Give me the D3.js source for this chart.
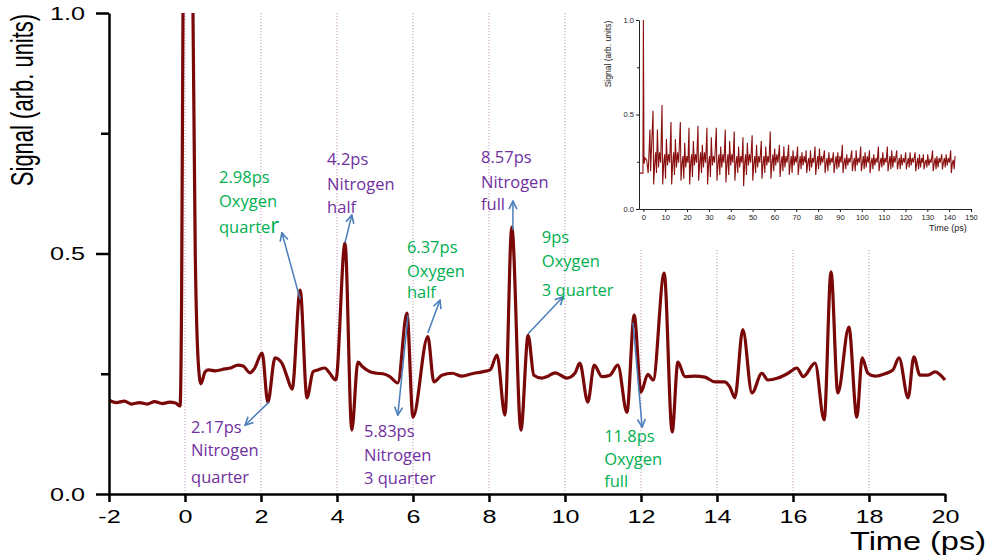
<!DOCTYPE html>
<html><head><meta charset="utf-8">
<script src="https://cdn.jsdelivr.net/npm/d3@7"></script>
<style>body{margin:0;background:#fff}svg{display:block}</style>
</head><body><svg id="c" width="985" height="558"></svg>
<script>
// ---------- main trace (time in ps, signal) ----------
const mainT = [-2.0,-1.8,-1.6,-1.4,-1.2,-1.0,-0.8,-0.6,-0.4,-0.25,-0.13,-0.09,-0.05,0.05,0.16,0.21,0.27,0.36,0.42,
  0.53,0.62,0.8,1.05,1.2,1.39,1.53,1.71,1.82,2.03,2.18,2.37,2.55,2.68,2.82,3.03,3.21,3.37,3.5,3.68,3.8,3.97,
  4.21,4.39,4.55,4.68,4.87,5.05,5.21,5.39,5.6,5.84,6.0,6.39,6.55,6.76,7.03,7.29,7.55,7.82,8.03,8.21,8.42,8.6,8.84,
  9.03,9.18,9.39,9.55,9.74,10.05,10.26,10.39,10.6,10.77,10.97,11.18,11.39,11.63,11.82,12.0,12.18,12.32,12.61,12.82,
  12.97,13.16,13.42,13.68,13.95,14.2,14.34,14.47,14.68,14.92,15.18,15.34,15.6,15.87,16.1,16.27,16.58,16.82,17.0,
  17.18,17.47,17.68,17.82,17.97,18.16,18.42,18.63,18.79,19.03,19.18,19.34,19.55,19.74,20.0];
const mainV = [0.195,0.190,0.193,0.187,0.190,0.187,0.192,0.188,0.191,0.189,0.183,0.40,1.05,1.6,1.6,1.0,0.5,0.26,0.229,
  0.254,0.258,0.256,0.260,0.262,0.268,0.266,0.252,0.260,0.293,0.191,0.283,0.272,0.245,0.218,0.424,0.200,0.254,0.258,0.262,0.252,0.237,
  0.522,0.133,0.274,0.264,0.254,0.251,0.250,0.244,0.231,0.376,0.160,0.327,0.233,0.247,0.251,0.245,0.250,0.254,0.258,0.289,0.164,0.555,0.133,
  0.330,0.247,0.241,0.245,0.252,0.241,0.251,0.272,0.191,0.268,0.244,0.247,0.268,0.170,0.372,0.212,0.249,0.237,0.459,0.129,
  0.274,0.244,0.245,0.243,0.233,0.233,0.222,0.200,0.342,0.210,0.251,0.237,0.241,0.251,0.262,0.244,0.272,0.154,0.462,
  0.210,0.347,0.160,0.283,0.251,0.245,0.250,0.258,0.283,0.200,0.285,0.247,0.247,0.254,0.237];

const xTicks = [-2,0,2,4,6,8,10,12,14,16,18,20];
const gridTimes = [0,2,4,6,8,10,12,14,16,18];
const yTicks = [0,0.5,1.0];
const yMinorTicks = [0.25,0.75];

// ---------- annotations ----------
const annLabels = [["2.17ps","Nitrogen","quarter"],["2.98ps","Oxygen","quarter"],["4.2ps","Nitrogen","half"],
  ["5.83ps","Nitrogen","3 quarter"],["6.37ps","Oxygen","half"],["8.57ps","Nitrogen","full"],
  ["9ps","Oxygen","3 quarter"],["11.8ps","Oxygen","full"]];
const annGas = ["N","O","N","N","O","N","O","O"];
const annTextT = [0.16,0.895,3.74,4.71,5.84,7.79,9.39,11.03];
const annTextV = [0.127,0.647,0.684,0.119,0.501,0.688,0.522,0.108];
const annLineGap = [[0,23,50],[0,24,50],[0,25,48],[0,24,47],[0,24,45],[0,25,47],[0,24,53],[0,23,45]];
const annFromT = [2.21,3.03,4.21,5.87,6.39,8.63,9.03,11.79];
const annFromV = [0.191,0.405,0.522,0.372,0.335,0.549,0.333,0.356];
const annToT = [1.58,2.55,4.39,5.6,6.71,8.63,9.95,12.03];
const annToV = [0.143,0.543,0.58,0.164,0.403,0.609,0.41,0.139];

// ---------- inset (long scan) ----------
const insetStartT = [-2,-0.2,0,0.3,0.8,1.5,2.2,3.0,3.3];
const insetStartV = [0.19,0.19,1.0,0.24,0.27,0.26,0.19,0.42,0.20];
const insetPeakT = [4.42,8.54,12.65,16.92,20.88,25.0,29.1,33.4,37.5,41.6,45.6,49.8,54.0,58.1,62.3,66.5,70.6,74.5,
  78.6,82.9,87.0,91.1,95.4,99.5,103.5,107.6,111.7,116.0,120.1,124.4,128.2,132.4,136.6,140.7];
const insetPeakV = [0.52,0.55,0.46,0.46,0.43,0.44,0.43,0.43,0.42,0.41,0.38,0.39,0.36,0.41,0.34,0.34,0.33,0.31,
  0.33,0.31,0.30,0.34,0.31,0.33,0.31,0.33,0.33,0.31,0.30,0.30,0.29,0.31,0.29,0.31];
const insetDipV = [0.13,0.13,0.13,0.15,0.13,0.15,0.13,0.15,0.14,0.15,0.12,0.15,0.16,0.16,0.17,0.18,0.18,0.19,
  0.18,0.19,0.19,0.19,0.20,0.20,0.19,0.20,0.20,0.21,0.21,0.20,0.21,0.20,0.21,0.19];
const insetMidV = [0.42,0.37,0.37,0.35,0.36,0.34,0.38,0.33,0.36,0.33,0.35,0.34,0.33,0.32,0.33,0.31,0.30,0.31,
  0.32,0.30,0.30,0.29,0.31,0.30,0.29,0.30,0.31,0.29,0.30,0.29,0.29,0.28,0.29,0.28];
const insetMidDipV = [0.19,0.16,0.18,0.16,0.17,0.19,0.17,0.18,0.18,0.19,0.18,0.19,0.19,0.20,0.20,0.19,0.21,0.20,
  0.21,0.20,0.21,0.21,0.20,0.21,0.21,0.22,0.21,0.21,0.22,0.21,0.22,0.21,0.22,0.21];
const insetSmallHiV = [0.30,0.29,0.30,0.28,0.29,0.30,0.28,0.29,0.29,0.28,0.29,0.28,0.28,0.29,0.28,0.28,0.28,0.27,
  0.28,0.27,0.28,0.27,0.27,0.28,0.27,0.27,0.28,0.27,0.27,0.27,0.26,0.27,0.27,0.26];
const insetSmallLoV = [0.22,0.23,0.22,0.22,0.23,0.22,0.23,0.22,0.23,0.22,0.23,0.22,0.23,0.23,0.22,0.23,0.23,0.22,
  0.23,0.23,0.22,0.23,0.23,0.22,0.23,0.23,0.22,0.23,0.23,0.22,0.23,0.22,0.23,0.22];
const insetBaseV = 0.245;
const insetEndT = 143;
const insetXTicks = [0,10,20,30,40,50,60,70,80,90,100,110,120,130,140,150];

// ---------- drawing ----------
const svg = d3.select('#c');
const FONT = '"Liberation Sans", Arial, sans-serif';
const x = d3.scaleLinear().domain([-2,20]).range([109,945]);
const y = d3.scaleLinear().domain([0,1]).range([494,13]);
const defs = svg.append('defs');
defs.append('clipPath').attr('id','plotclip').append('rect')
  .attr('x',x(-2)).attr('y',y(1)).attr('width',x(20)-x(-2)+2).attr('height',y(0)-y(1));
defs.append('marker').attr('id','ah').attr('viewBox','0 0 10 10').attr('refX',9).attr('refY',5)
  .attr('markerWidth',10).attr('markerHeight',10).attr('markerUnits','userSpaceOnUse').attr('orient','auto')
  .append('path').attr('d','M1,1 L9,5 L1,9').attr('fill','none').attr('stroke','#4a7ebb').attr('stroke-width',1.6);

// grid
svg.append('g').selectAll('line').data(gridTimes).join('line')
  .attr('x1',d=>x(d)).attr('x2',d=>x(d)).attr('y1',y(1)).attr('y2',y(0))
  .attr('stroke','#c09ac4').attr('stroke-width',1).attr('stroke-dasharray','1.2,1.8');

// trace
const pts = mainT.map((t,i)=>[t,mainV[i]]);
svg.append('path').datum(pts).attr('clip-path','url(#plotclip)')
  .attr('d',d3.line().x(d=>x(d[0])).y(d=>y(d[1])).curve(d3.curveMonotoneX))
  .attr('fill','none').attr('stroke','#7a0808').attr('stroke-width',3.2).attr('stroke-linejoin','round');

// axes
const xa = svg.append('g').attr('transform',`translate(0,${y(0)})`)
  .call(d3.axisBottom(x).tickValues(xTicks).tickSize(8).tickSizeOuter(0).tickFormat(d=>String(d)));
xa.selectAll('path,line').attr('stroke','#000').attr('stroke-width',2.5);
xa.selectAll('text').attr('y',29).attr('dy',0).attr('font-family',FONT).attr('font-size',18)
  .attr('fill','#000').attr('transform','scale(1.4,1)');
const ya = svg.append('g').attr('transform',`translate(${x(-2)},0)`)
  .call(d3.axisLeft(y).tickValues(yTicks).tickSize(13).tickSizeOuter(0).tickFormat(d3.format('.1f')));
ya.selectAll('path,line').attr('stroke','#000').attr('stroke-width',2.5);
ya.selectAll('text').attr('x',0).attr('dy','0.36em').attr('font-family',FONT).attr('font-size',18)
  .attr('fill','#000').attr('transform','translate(-24,0) scale(1.4,1)');
const ym = svg.append('g').attr('transform',`translate(${x(-2)},0)`)
  .call(d3.axisLeft(y).tickValues(yMinorTicks).tickSize(8).tickSizeOuter(0).tickFormat(''));
ym.select('.domain').remove();
ym.selectAll('line').attr('stroke','#000').attr('stroke-width',2.5);

svg.append('text').text('Signal (arb. units)').attr('text-anchor','middle')
  .attr('transform','translate(33,100) rotate(-90) scale(1,1.4)')
  .attr('font-family',FONT).attr('font-size',22).attr('fill','#000');
svg.append('text').text('Time (ps)').attr('transform','translate(850,550) scale(1.3,1)')
  .attr('font-family',FONT).attr('font-size',25).attr('fill','#000');

// inset
svg.append('rect').attr('x',598).attr('y',0).attr('width',387).attr('height',250).attr('fill','#fff');
const ix = d3.scaleLinear().domain([-2,150]).range([639,971]);
const iy = d3.scaleLinear().domain([0,1]).range([209,20]);
const offs = [0,0.3,0.8,1.2,1.6,2.0,2.5,3.0,3.5];
let iT = insetStartT.slice(), iV = insetStartV.slice();
insetPeakT.forEach((T,i)=>{
  const vals = [insetPeakV[i],insetDipV[i],insetBaseV,insetSmallHiV[i],insetMidDipV[i],insetMidV[i],insetSmallLoV[i],insetSmallHiV[i],insetBaseV];
  offs.forEach((o,k)=>{ if (T+o<=insetEndT){ iT.push(T+o); iV.push(vals[k]); } });
});
const ipts = iT.map((t,i)=>[t,iV[i]]);
svg.append('path').datum(ipts)
  .attr('d',d3.line().x(d=>ix(d[0])).y(d=>iy(d[1])))
  .attr('fill','none').attr('stroke','#8a1010').attr('stroke-width',1.1);
const ixa = svg.append('g').attr('transform',`translate(0,${iy(0)})`)
  .call(d3.axisBottom(ix).tickValues(insetXTicks).tickSize(3).tickSizeOuter(0).tickFormat(d=>String(d)));
ixa.selectAll('path,line').attr('stroke','#222').attr('stroke-width',1);
ixa.selectAll('text').attr('y',6).attr('font-family',FONT).attr('font-size',7.5).attr('fill','#222');
const iya = svg.append('g').attr('transform',`translate(${ix(-2)},0)`)
  .call(d3.axisLeft(iy).tickValues(yTicks).tickSize(3).tickSizeOuter(0).tickFormat(d3.format('.1f')));
iya.selectAll('path,line').attr('stroke','#222').attr('stroke-width',1);
iya.selectAll('text').attr('x',-5).attr('font-family',FONT).attr('font-size',7.5).attr('fill','#222');
const iym = svg.append('g').attr('transform',`translate(${ix(-2)},0)`)
  .call(d3.axisLeft(iy).tickValues(yMinorTicks).tickSize(2).tickSizeOuter(0).tickFormat(''));
iym.select('.domain').remove();
iym.selectAll('line').attr('stroke','#222');
svg.append('text').text('Signal (arb. units)').attr('text-anchor','middle')
  .attr('transform','translate(611,54) rotate(-90)')
  .attr('font-family',FONT).attr('font-size',8.5).attr('fill','#222');
svg.append('text').text('Time (ps)').attr('x',929).attr('y',231)
  .attr('font-family',FONT).attr('font-size',9).attr('fill','#222');

// annotations
const AF = '"Open Sans", "Noto Sans", sans-serif';
const colors = {N:'#7030a0', O:'#00b050'};
const ag = svg.append('g');
annLabels.forEach((lines,i)=>{
  ag.append('line').attr('x1',x(annFromT[i])).attr('y1',y(annFromV[i]))
    .attr('x2',x(annToT[i])).attr('y2',y(annToV[i]))
    .attr('stroke','#4a7ebb').attr('stroke-width',1.5).attr('marker-end','url(#ah)');
  const t = ag.append('text').attr('font-family',AF).attr('font-size',16.5).attr('fill',colors[annGas[i]]);
  lines.forEach((s,k)=>{
    const ts = t.append('tspan').attr('x',x(annTextT[i])).attr('y',y(annTextV[i])+annLineGap[i][k]);
    if (i===1 && k===2){ ts.text('quarte'); t.append('tspan').attr('font-size',22).text('r'); }
    else ts.text(s);
  });
});
</script></body></html>
